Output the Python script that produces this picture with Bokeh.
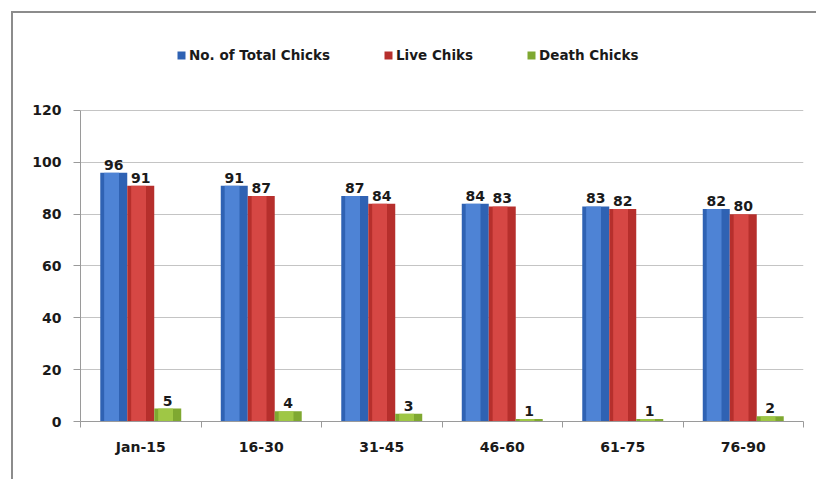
from bokeh.plotting import figure
from bokeh.models import ColumnDataSource, FixedTicker, Legend, LegendItem, Range1d
from bokeh.transform import dodge
from bokeh.core.properties import value
from bokeh.embed import file_html
from bokeh.resources import INLINE

categories = ["Jan-15", "16-30", "31-45", "46-60", "61-75", "76-90"]
total_chicks = [96, 91, 87, 84, 83, 82]
live_chicks = [91, 87, 84, 83, 82, 80]
death_chicks = [5, 4, 3, 1, 1, 2]
series_names = ["No. of Total Chicks", "Live Chiks", "Death Chicks"]
y_ticks = [0, 20, 40, 60, 80, 100, 120]

FONT = "DejaVu Sans"
xs = [i + 0.5 for i in range(len(categories))]
src = ColumnDataSource(dict(x=xs, total=total_chicks, live=live_chicks, death=death_chicks,
                            total_s=[str(v) for v in total_chicks],
                            live_s=[str(v) for v in live_chicks],
                            death_s=[str(v) for v in death_chicks]))

p = figure(width=805, height=468, output_backend="svg", toolbar_location=None,
           x_range=Range1d(0, len(categories)), y_range=Range1d(0, 147),
           min_border_left=67, min_border_right=15, min_border_top=27, min_border_bottom=60)
p.styles = {"border-left": "2px solid #8c8c8c", "border-top": "2px solid #8c8c8c",
            "position": "relative", "left": "11px", "top": "11px"}
p.outline_line_color = None
p.background_fill_color = "white"
p.border_fill_color = "white"

bw = 0.224
offs = [-bw, 0.0, bw]
cols = ["total", "live", "death"]
base = ["#2f62b3", "#b62f2c", "#7fa831"]
light = ["#5a8fe0", "#e0504c", "#a9d24c"]
renderers = []
for c, o, b, l in zip(cols, offs, base, light):
    r = p.vbar(x=dodge("x", o, range=p.x_range), top=c, width=bw, bottom=0, source=src,
               fill_color=b, line_color=None)
    p.vbar(x=dodge("x", o - bw * 0.08, range=p.x_range), top=c, width=bw * 0.55, bottom=0,
           source=src, fill_color=l, line_color=None, fill_alpha=0.75)
    p.text(x=dodge("x", o, range=p.x_range), y=c, text=c + "_s", source=src,
           text_align="center", text_baseline="bottom", y_offset=-3,
           text_font=value(FONT), text_font_style="bold", text_font_size="14px",
           text_color="#1a1a1a")
    renderers.append(r)

legend = Legend(items=[LegendItem(label=n, renderers=[r]) for n, r in zip(series_names, renderers)],
                orientation="horizontal", location=(96, 358),
                label_text_font=FONT, label_text_font_style="bold", label_text_font_size="13.5px",
                label_text_color="#1a1a1a", glyph_width=10, glyph_height=10,
                label_standoff=3, spacing=53, padding=0, margin=0,
                border_line_color=None, background_fill_alpha=0)
p.add_layout(legend, "center")

p.yaxis.bounds = (0, 120)
p.yaxis.ticker = FixedTicker(ticks=y_ticks)
p.ygrid.ticker = FixedTicker(ticks=y_ticks)
p.ygrid.grid_line_color = "#c4c4c4"
p.xgrid.grid_line_color = None
p.yaxis.axis_line_color = "#9a9a9a"
p.yaxis.major_tick_line_color = "#9a9a9a"
p.yaxis.major_tick_out = 7
p.yaxis.major_tick_in = 0
p.yaxis.minor_tick_line_color = None
p.yaxis.major_label_standoff = 12
p.yaxis.major_label_text_font = FONT
p.yaxis.major_label_text_font_style = "bold"
p.yaxis.major_label_text_font_size = "14px"
p.yaxis.major_label_text_color = "#1a1a1a"

p.xaxis.ticker = FixedTicker(ticks=xs, minor_ticks=list(range(len(categories) + 1)))
p.xaxis.major_label_overrides = {x: c for x, c in zip(xs, categories)}
p.xaxis.axis_line_color = "#9a9a9a"
p.xaxis.major_tick_line_color = None
p.xaxis.major_tick_out = 0
p.xaxis.minor_tick_line_color = "#9a9a9a"
p.xaxis.minor_tick_out = 6
p.xaxis.minor_tick_in = 0
p.xaxis.major_label_standoff = 11
p.xaxis.major_label_text_font = FONT
p.xaxis.major_label_text_font_style = "bold"
p.xaxis.major_label_text_font_size = "14px"
p.xaxis.major_label_text_color = "#1a1a1a"

open("out.html", "w").write(file_html(p, INLINE))
